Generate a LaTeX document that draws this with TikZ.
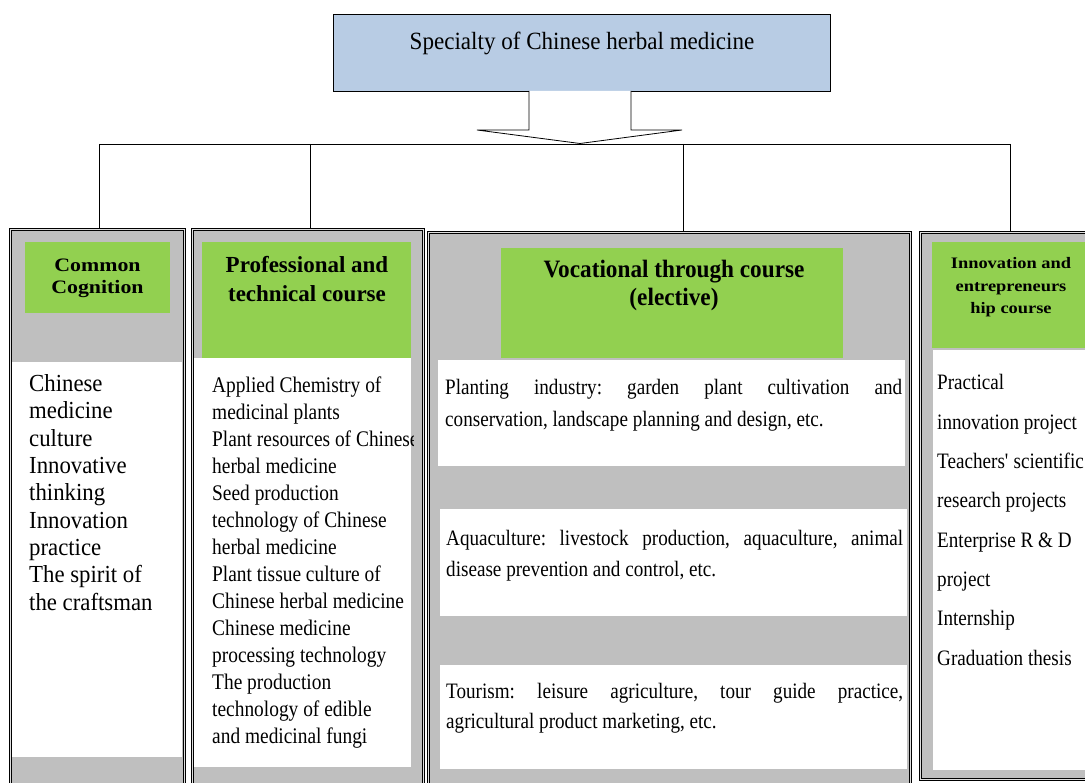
\documentclass[tikz,border=0pt]{standalone}
\usepackage{fontspec}
\setmainfont{Liberation Serif}
\newfontfamily\fbody[FakeStretch=0.87]{Liberation Serif}
\newfontfamily\fone[FakeStretch=0.93]{Liberation Serif}
\newfontfamily\fwide[FakeStretch=1.15]{Liberation Serif}
\newfontfamily\fhead[FakeStretch=0.93]{Liberation Serif}
\definecolor{colgray}{HTML}{BFBFBF}
\definecolor{hgreen}{HTML}{92D050}
\definecolor{tblue}{HTML}{B8CCE4}
\hyphenpenalty=10000
\exhyphenpenalty=10000
\frenchspacing
\begin{document}
\begin{tikzpicture}[x=1pt,y=-1pt,
  colbox/.style={draw=black, line width=0.7pt, double=colgray!50, double distance=1pt, fill=colgray, inner sep=0pt, anchor=north west},
  greenbox/.style={fill=hgreen, draw=none, inner sep=0pt, anchor=north west},
  whitebox/.style={fill=white, draw=none, inner sep=0pt, anchor=north west},
  conn/.style={draw=black, line width=0.8pt},
  bodytxt/.style={anchor=base west, inner sep=0pt, align=left},
  headtxt/.style={anchor=base, inner sep=0pt, align=center}]
\clip (0,0) rectangle (1085,783);
\fill[white] (0,0) rectangle (1085,783);

% top box
\node[draw=black, line width=1pt, fill=tblue, minimum width=497pt, minimum height=77pt, anchor=north west, inner sep=0pt] (top) at (333,14) {};
\node[headtxt, font=\fhead\fontsize{24.8}{28}\selectfont] (toptxt) at (582,50) {Specialty of Chinese herbal medicine};

% hollow block arrow
\draw[line width=0.8pt, fill=white, line join=miter] (529,91) -- (529,130) -- (477,130) -- (580,143.5) -- (682,130) -- (631,130) -- (631,91);

% columns
\node[colbox, minimum width=174pt, minimum height=570pt] (c1) at (10,229) {};
\node[colbox, minimum width=231pt, minimum height=570pt] (c2) at (192,229) {};
\node[colbox, minimum width=482pt, minimum height=570pt] (c3) at (428,232) {};
\node[colbox, minimum width=180pt, minimum height=547pt] (c4) at (920,232) {};

% bus and drops
\coordinate (b1) at (99,144);
\coordinate (b2) at (310,144);
\coordinate (b3) at (683,144);
\coordinate (b4) at (1010,144);
\draw[conn] (b1) -- (b4);
\draw[conn] (b1) -- (b1 |- c1.north);
\draw[conn] (b2) -- (b2 |- c2.north);
\draw[conn] (b3) -- (b3 |- c3.north);
\draw[conn] (b4) -- (b4 |- c4.north);

% green headers
\node[greenbox, minimum width=145pt, minimum height=71pt] (g1) at (25,242) {};
\node[greenbox, minimum width=209pt, minimum height=116pt] (g2) at (202,242) {};
\node[greenbox, minimum width=342pt, minimum height=110pt] (g3) at (501,248) {};
\node[greenbox, minimum width=160pt, minimum height=106pt] (g4) at (932,242) {};

% white areas
\node[whitebox, minimum width=170pt, minimum height=395pt] (w1) at (12,362) {};
\node[whitebox, minimum width=217pt, minimum height=409pt] (w2) at (194,358) {};
\node[whitebox, minimum width=467pt, minimum height=106pt] (w3a) at (438,360) {};
\node[whitebox, minimum width=467pt, minimum height=107pt] (w3b) at (440,509) {};
\node[whitebox, minimum width=467pt, minimum height=104pt] (w3c) at (440,665) {};
\node[whitebox, minimum width=160pt, minimum height=420pt] (w4) at (933,350) {};

% header texts (base anchor = last line baseline)
\node[headtxt, font=\fwide\bfseries\fontsize{19}{22}\selectfont] (h1) at (97.5,294) {Common\\Cognition};
\node[headtxt, font=\bfseries\fontsize{23}{29}\selectfont] (h2) at (307,302) {Professional and\\technical course};
\node[headtxt, font=\fhead\bfseries\fontsize{25}{28}\selectfont] (h3) at (674,306) {Vocational through course\\(elective)};
\node[headtxt, font=\fwide\bfseries\fontsize{16}{22.5}\selectfont] (h4) at (1011,314) {Innovation and\\entrepreneurs\\hip course};

% body texts
\node[bodytxt, font=\fone\fontsize{24.5}{27.3}\selectfont] (t1) at (29,610) {Chinese\\medicine\\culture\\Innovative\\thinking\\Innovation\\practice\\The spirit of\\the craftsman};
\begin{scope}
\clip (194,358) rectangle (413,767);
\node[bodytxt, font=\fbody\fontsize{22.3}{27}\selectfont] (t2) at (212,743) {Applied Chemistry of\\medicinal plants\\Plant resources of Chinese\\herbal medicine\\Seed production\\technology of Chinese\\herbal medicine\\Plant tissue culture of\\Chinese herbal medicine\\Chinese medicine\\processing technology\\The production\\technology of edible\\and medicinal fungi};
\end{scope}
\node[anchor=base west, inner sep=0pt, text width=457pt, align=justify, font=\fbody\fontsize{22}{32}\selectfont] (t3a) at (445,395) {Planting industry: garden plant cultivation and\linebreak conservation, landscape planning and design, etc.};
\node[anchor=base west, inner sep=0pt, text width=457pt, align=justify, font=\fbody\fontsize{22}{32}\selectfont] (t3b) at (446,545) {Aquaculture: livestock production, aquaculture, animal\linebreak disease prevention and control, etc.};
\node[anchor=base west, inner sep=0pt, text width=457pt, align=justify, font=\fbody\fontsize{22}{30}\selectfont] (t3c) at (446,698) {Tourism: leisure agriculture, tour guide practice,\linebreak agricultural product marketing, etc.};
\node[bodytxt, font=\fbody\fontsize{22}{39.3}\selectfont] (t4) at (937,665) {Practical\\innovation project\\Teachers\textquotesingle{} scientific\\research projects\\Enterprise R \& D\\project\\Internship\\Graduation thesis};
\end{tikzpicture}
\end{document}
